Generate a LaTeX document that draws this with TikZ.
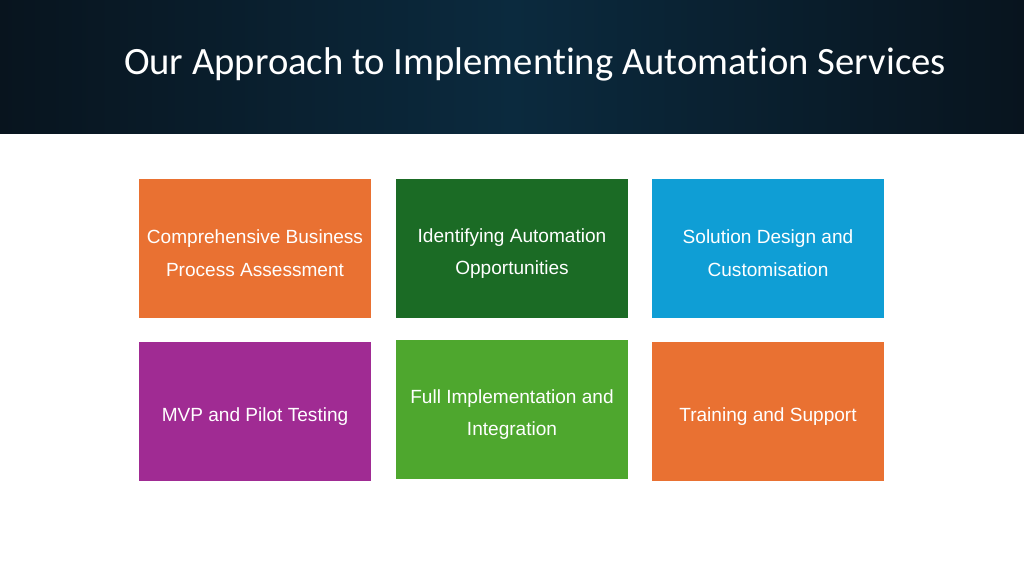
\documentclass[tikz,border=0pt]{standalone}
\usepackage{fontspec}
\setmainfont{Liberation Sans}
\newfontfamily\titlefont[Ligatures=NoCommon]{Carlito}
\usetikzlibrary{positioning}
\definecolor{cnavy}{HTML}{0B2A3E}
\definecolor{cdark}{HTML}{08141E}
\definecolor{corange}{HTML}{E97132}
\definecolor{cdkgreen}{HTML}{1B6B25}
\definecolor{cblue}{HTML}{0F9ED5}
\definecolor{cpurple}{HTML}{A02B93}
\definecolor{cgreen}{HTML}{4EA72E}
\tikzset{
x=0.02cm, y=-0.02cm,
Step/.style={
	minimum width=4.64cm,
	minimum height=2.78cm,
	inner sep=0pt
},
StepText/.style={
	align=center,
	text=white,
	font=\fontsize{10.85}{18.7}\selectfont,
	inner sep=0pt
}
}
\begin{document}
\begin{tikzpicture}
	\useasboundingbox (0,0) rectangle (1024,576);
	\fill[white] (0,0) rectangle (1024,576);
	\shade[left color=cdark, right color=cdark, middle color=cnavy] (0,0) rectangle (1024,133);
	\node[text=white, font=\titlefont\fontsize{22}{24}\selectfont] (title) at (535,64) {Our Approach to Implementing Automation Services};

	\node[Step, fill=corange] (assess) at (255,248.5) {};
	\node[Step, fill=cdkgreen] (identify) at (512,248.5) {};
	\node[Step, fill=cblue] (design) at (768,248.5) {};
	\node[Step, fill=cpurple] (mvp) at (255,411.5) {};
	\node[Step, fill=cgreen] (full) at (512,409.5) {};
	\node[Step, fill=corange] (train) at (768,411.5) {};

	\node[StepText] (assesstext) at ([yshift=-0.1cm]assess.center) {Comprehensive Business\\Process Assessment};
	\node[StepText] (identifytext) at ([yshift=-0.1cm]identify.center) {Identifying Automation\\Opportunities};
	\node[StepText] (designtext) at ([yshift=-0.1cm]design.center) {Solution Design and\\Customisation};
	\node[StepText] (mvptext) at ([yshift=-0.1cm]mvp.center) {MVP and Pilot Testing};
	\node[StepText] (fulltext) at ([yshift=-0.1cm]full.center) {Full Implementation and\\Integration};
	\node[StepText] (traintext) at ([yshift=-0.1cm]train.center) {Training and Support};
\end{tikzpicture}
\end{document}
